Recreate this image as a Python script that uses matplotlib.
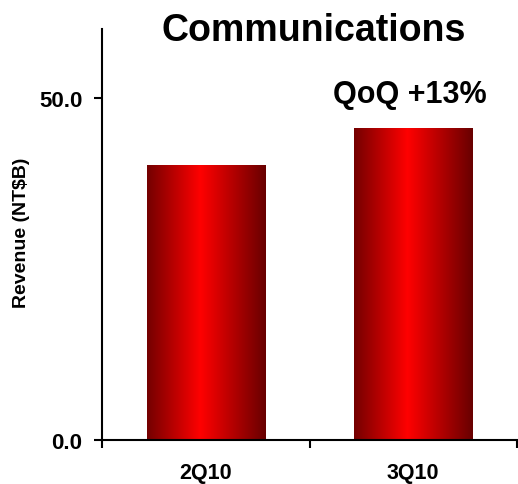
import numpy as np
import matplotlib.pyplot as plt
from matplotlib.colors import LinearSegmentedColormap

# Quarterly revenue, NT$ billions
quarters = ['2Q10', '3Q10']
revenue = [40.2, 45.5]
growth_note = 'QoQ +13%'

plt.rcParams['font.family'] = ['Liberation Sans', 'DejaVu Sans']
plt.rcParams['font.weight'] = 'bold'

fig = plt.figure(figsize=(5.18, 4.85), dpi=100)
ax = fig.add_axes([0.197, 0.091, 0.801, 0.847])

# dark-bright-dark red shading across each bar
red_shade = LinearSegmentedColormap.from_list(
    'bar_red', [(0.0, '#740000'), (0.45, '#ff0000'), (1.0, '#680000')])
grad = np.linspace(0, 1, 256).reshape(1, -1)

width = 0.57
xs = np.arange(len(quarters)) + 0.5
bars = ax.bar(xs, revenue, width=width, color='none', edgecolor='none', zorder=2)
for b in bars:
    x0, y0 = b.get_x(), b.get_y()
    im = ax.imshow(grad, cmap=red_shade, aspect='auto', zorder=2,
                   extent=(x0, x0 + b.get_width(), y0, y0 + b.get_height()))
    im.set_clip_path(b)

ax.set_xlim(0, len(quarters))
ax.set_ylim(0, 60)

ax.set_yticks([0, 50])
ax.set_yticklabels(['0.0', '50.0'], fontsize=16, fontweight='bold')
ax.set_xticks(np.arange(len(quarters) + 1))
ax.set_xticklabels([])
ax.set_xticks(xs, minor=True)
ax.set_xticklabels(quarters, minor=True, fontsize=15.5, fontweight='bold')
ax.tick_params(axis='x', which='minor', length=0, pad=16)
ax.tick_params(axis='both', which='major', length=6, width=1.5, direction='out')
ax.tick_params(axis='y', pad=8)

for side in ['top', 'right']:
    ax.spines[side].set_visible(False)
for side in ['left', 'bottom']:
    ax.spines[side].set_linewidth(1.5)

ax.set_ylabel('Revenue (NT$B)', fontsize=14, fontweight='bold')
ax.yaxis.set_label_coords(-0.174, 0.506)

fig.text(0.606, 0.937, 'Communications', fontsize=27, fontweight='bold',
         ha='center', va='center')
ax.text(1.484, 49.4, growth_note, fontsize=22, fontweight='bold',
        ha='center', va='baseline')

fig.savefig('out.png', dpi=100)
